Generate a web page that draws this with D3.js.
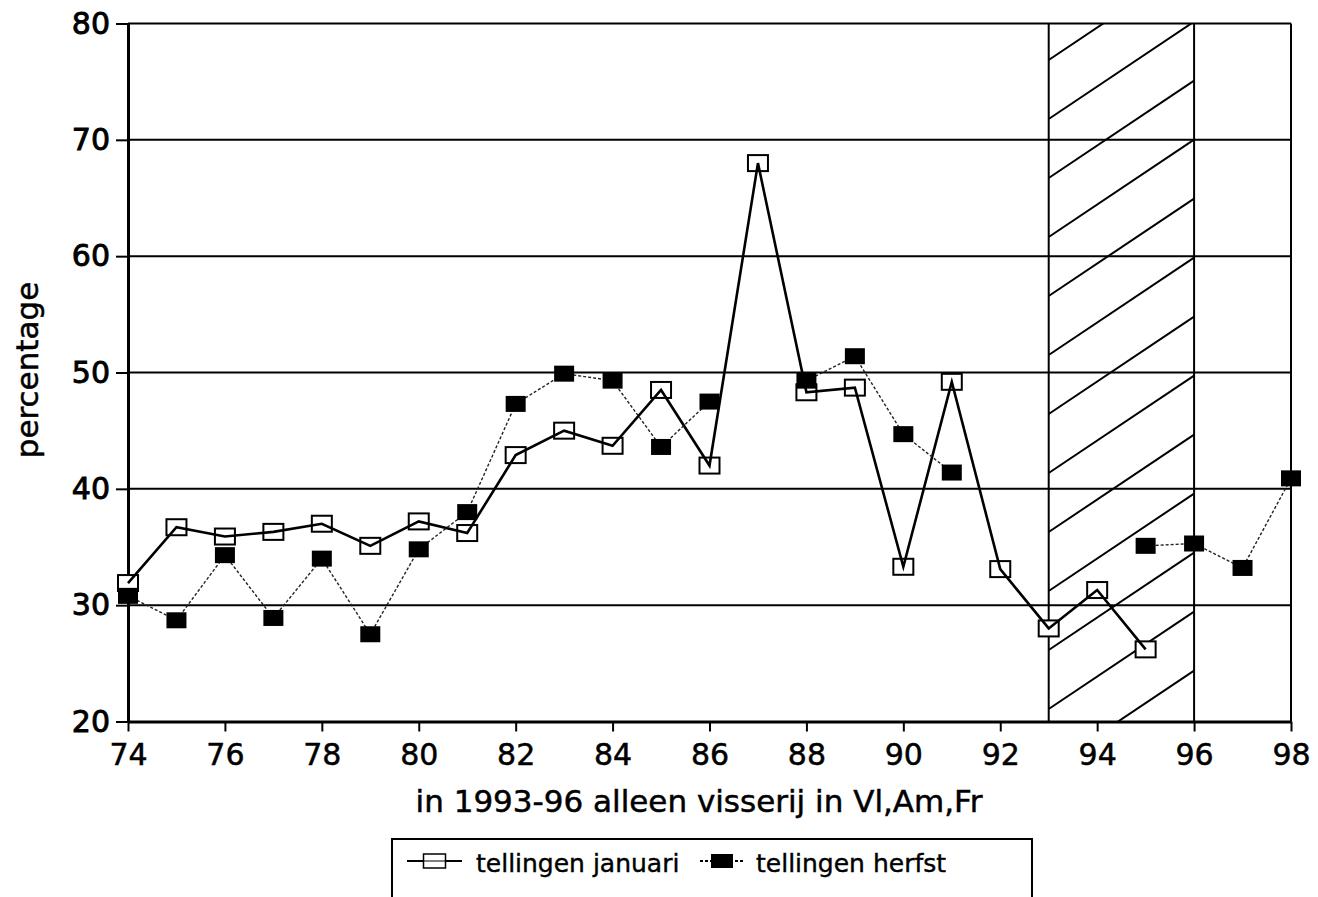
<!DOCTYPE html>
<html><head><meta charset="utf-8">
<script src="https://cdn.jsdelivr.net/npm/d3@7/dist/d3.min.js"></script>
<style>
body{margin:0;background:#fff}
svg{display:block}
text{font-family:"DejaVu Sans",sans-serif;fill:#000}
</style>
</head><body>
<svg id="c" width="1318" height="897"></svg>
<script>
// ---- data ----
const years   = [74,75,76,77,78,79,80,81,82,83,84,85,86,87,88,89,90,91,92,93,94,95,96,97,98];
const januari = [31.9,36.7,35.9,36.3,37.0,35.1,37.2,36.2,42.9,45.0,43.7,48.5,42.0,68.0,48.3,48.7,33.3,49.2,33.1,28.0,31.3,26.2,null,null,null];
const herfst  = [30.8,28.7,34.3,28.9,34.0,27.5,34.8,38.0,47.3,49.9,49.3,43.6,47.5,null,49.3,51.4,44.7,41.4,null,null,null,35.1,35.3,33.2,40.9];
const yTicks  = [20,30,40,50,60,70,80];
const xTicks  = [74,76,78,80,82,84,86,88,90,92,94,96,98];
const hatchRange = [93,96];
const xTitle = "in 1993-96 alleen visserij in Vl,Am,Fr";
const yTitle = "percentage";
const seriesNames = ["tellingen januari","tellingen herfst"];

// ---- chart ----
const svg = d3.select("#c");
const x = d3.scaleLinear().domain([74,98]).range([128,1291]);
const y = d3.scaleLinear().domain([20,80]).range([721.5,23.5]);
const [x0,x1] = x.range(), [yb,yt] = y.range();

// gridlines
svg.append("g").selectAll("line").data(yTicks.filter(v=>v>20)).join("line")
  .attr("x1",x0).attr("x2",x1).attr("y1",d=>y(d)).attr("y2",d=>y(d))
  .attr("stroke","#000").attr("stroke-width",2);
// right border
svg.append("line").attr("x1",x1).attr("x2",x1).attr("y1",yt).attr("y2",yb)
  .attr("stroke","#000").attr("stroke-width",2);

// hatched region
const hx0 = x(hatchRange[0]), hx1 = x(hatchRange[1]);
svg.append("clipPath").attr("id","hclip").append("rect")
  .attr("x",hx0).attr("y",yt).attr("width",hx1-hx0).attr("height",yb-yt);
const hg = svg.append("g").attr("clip-path","url(#hclip)");
const rise = (hx1-hx0)*0.67;
for(let k=-1;k<14;k++){
  const ys = 60 + 59*k;
  hg.append("line").attr("x1",hx0).attr("y1",ys).attr("x2",hx1).attr("y2",ys-rise)
    .attr("stroke","#000").attr("stroke-width",2);
}
svg.append("g").selectAll("line").data(hatchRange).join("line")
  .attr("x1",d=>x(d)).attr("x2",d=>x(d)).attr("y1",yt).attr("y2",yb)
  .attr("stroke","#000").attr("stroke-width",2);

// axes
const ya = svg.append("g").attr("transform",`translate(${x0},0)`)
  .call(d3.axisLeft(y).tickValues(yTicks).tickSize(12).tickSizeOuter(0).tickPadding(6));
ya.select(".domain").attr("stroke-width",3);
ya.selectAll(".tick line").attr("stroke-width",2);
ya.selectAll("text").attr("font-size",30).attr("font-family","DejaVu Sans")
  .attr("stroke","#000").attr("stroke-width",0.9);

const xa = svg.append("g").attr("transform",`translate(0,${yb})`)
  .call(d3.axisBottom(x).tickValues(xTicks).tickFormat(d3.format("d")).tickSize(10).tickSizeOuter(0).tickPadding(12.5));
xa.select(".domain").attr("stroke-width",3);
xa.selectAll(".tick line").attr("stroke-width",2);
xa.selectAll("text").attr("font-size",30).attr("font-family","DejaVu Sans")
  .attr("stroke","#000").attr("stroke-width",0.5);

// titles
svg.append("text").attr("x",699).attr("y",812).attr("text-anchor","middle")
  .attr("font-size",31).attr("stroke","#000").attr("stroke-width",0.5).text(xTitle);
svg.append("text").attr("transform","translate(38,370) rotate(-90)").attr("text-anchor","middle")
  .attr("font-size",31).attr("stroke","#000").attr("stroke-width",0.5).text(yTitle);

// series
const jd = years.map((yr,i)=>({yr,v:januari[i]}));
const hd = years.map((yr,i)=>({yr,v:herfst[i]}));
const line = d3.line().defined(d=>d.v!=null).x(d=>x(d.yr)).y(d=>y(d.v));
const MW = 20, MH = 16;

svg.append("g").selectAll("rect").data(jd.filter(d=>d.v!=null)).join("rect")
  .attr("x",d=>x(d.yr)-MW/2).attr("y",d=>y(d.v)-MH/2).attr("width",MW).attr("height",MH)
  .attr("fill","#fff").attr("stroke","#000").attr("stroke-width",2);
svg.append("path").datum(jd).attr("d",line).attr("fill","none")
  .attr("stroke","#000").attr("stroke-width",2.6).attr("stroke-linejoin","miter");
svg.append("path").datum(hd).attr("d",line).attr("fill","none")
  .attr("stroke","#222").attr("stroke-width",1.4).attr("stroke-dasharray","3,2");
svg.append("g").selectAll("rect").data(hd.filter(d=>d.v!=null)).join("rect")
  .attr("x",d=>x(d.yr)-MW/2).attr("y",d=>y(d.v)-MH/2).attr("width",MW).attr("height",MH)
  .attr("fill","#000");

// legend
const lg = svg.append("g");
lg.append("rect").attr("x",392).attr("y",839).attr("width",640).attr("height",80)
  .attr("fill","none").attr("stroke","#000").attr("stroke-width",2);
const items = [
  {name:seriesNames[0], lx:407, lw:55, tx:476, open:true},
  {name:seriesNames[1], lx:700, lw:44, tx:756, open:false}
];
const ly = 861;
items.forEach(it=>{
  lg.append("line").attr("x1",it.lx).attr("x2",it.lx+it.lw).attr("y1",ly).attr("y2",ly)
    .attr("stroke","#000").attr("stroke-width",2)
    .attr("stroke-dasharray",it.open?null:"3,2");
  const cx = it.lx+it.lw/2;
  lg.append("rect").attr("x",cx-11).attr("y",ly-7).attr("width",22).attr("height",14)
    .attr("fill",it.open?"#fff":"#000").attr("stroke","#000").attr("stroke-width",it.open?1.5:0);
  if(it.open){
    lg.append("line").attr("x1",cx-11).attr("x2",cx+11).attr("y1",ly).attr("y2",ly)
      .attr("stroke","#000").attr("stroke-width",1);
  }
  lg.append("text").attr("x",it.tx).attr("y",872).attr("font-size",25)
    .attr("stroke","#000").attr("stroke-width",0.4).text(it.name);
});
</script>
</body></html>
